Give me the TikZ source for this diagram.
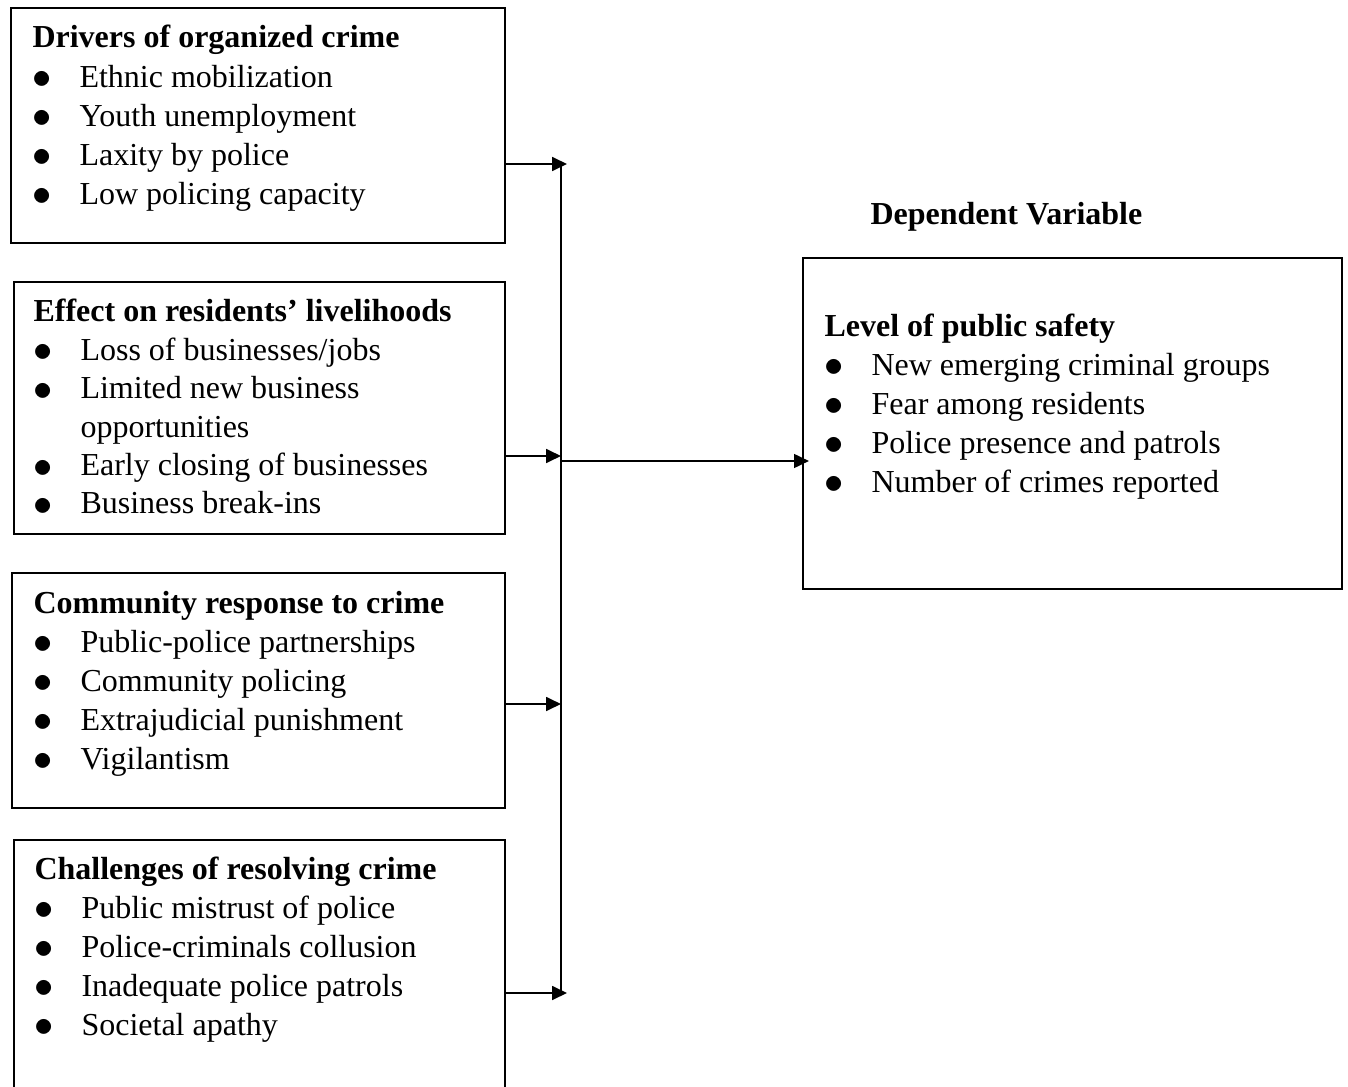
\documentclass[tikz,border=0pt]{standalone}
\usepackage{fontspec}
\setmainfont{Liberation Serif}
\usepackage{tikz}
\usetikzlibrary{arrows.meta}
\newdimen\px \px=0.375pt
\newcommand{\bulitem}[1]{\makebox[47\px][l]{\raisebox{-1.6\px}{\scalebox{1.2}{$\bullet$}}}#1}
\newcommand{\bulcont}[1]{\hspace*{47\px}#1}
\tikzset{
    panel/.style = {
        draw, line width = 0.6pt,
        inner sep = 0pt,
        anchor = north west
    },
    listtext/.style = {
        inner sep = 0pt, anchor = base west,
        font = \fontsize{12pt}{14.65pt}\selectfont
    },
    wire/.style = {line width = 0.75pt},
    line/.style = {wire, -{Triangle[length=5.6pt, width=5.2pt]}}
}
\begin{document}
\begin{tikzpicture}[x=0.375pt, y=-0.375pt]

    \useasboundingbox (0,0) rectangle (1348,1087);

    % Boxes
    \node[panel, minimum width=494\px, minimum height=235\px] (drivers) at (10,7) {};
    \node[panel, minimum width=491\px, minimum height=252\px] (livelihoods) at (13,281) {};
    \node[panel, minimum width=493\px, minimum height=235\px] (community) at (11,572) {};
    \node[panel, minimum width=491\px, minimum height=300\px] (challenges) at (13,839) {};
    \node[panel, minimum width=539\px, minimum height=331\px] (safety) at (802,257) {};

    % Texts
    \node[listtext] (driverslist) at (32,48) {\begin{tabular}[t]{@{}l@{}}
        \textbf{Drivers of organized crime}\\
        \bulitem{Ethnic mobilization}\\
        \bulitem{Youth unemployment}\\
        \bulitem{Laxity by police}\\
        \bulitem{Low policing capacity}
    \end{tabular}};
    \node[listtext, font=\fontsize{12pt}{14.4pt}\selectfont] (livelihoodslist) at (33,322) {\begin{tabular}[t]{@{}l@{}}
        \textbf{Effect on residents’ livelihoods}\\
        \bulitem{Loss of businesses/jobs}\\
        \bulitem{Limited new business}\\
        \bulcont{opportunities}\\
        \bulitem{Early closing of businesses}\\
        \bulitem{Business break-ins}
    \end{tabular}};
    \node[listtext] (communitylist) at (33,613) {\begin{tabular}[t]{@{}l@{}}
        \textbf{Community response to crime}\\
        \bulitem{Public-police partnerships}\\
        \bulitem{Community policing}\\
        \bulitem{Extrajudicial punishment}\\
        \bulitem{Vigilantism}
    \end{tabular}};
    \node[listtext] (challengeslist) at (34,879) {\begin{tabular}[t]{@{}l@{}}
        \textbf{Challenges of resolving crime}\\
        \bulitem{Public mistrust of police}\\
        \bulitem{Police-criminals collusion}\\
        \bulitem{Inadequate police patrols}\\
        \bulitem{Societal apathy}
    \end{tabular}};
    \node[listtext] (safetylist) at (824,336) {\begin{tabular}[t]{@{}l@{}}
        \textbf{Level of public safety}\\
        \bulitem{New emerging criminal groups}\\
        \bulitem{Fear among residents}\\
        \bulitem{Police presence and patrols}\\
        \bulitem{Number of crimes reported}
    \end{tabular}};
    \node[listtext, font=\fontsize{12pt}{14.65pt}\selectfont\bfseries] (dependent) at (870,225) {Dependent Variable};

    % Connectors
    \coordinate (tap1) at (567,164);
    \coordinate (tap2) at (561,456);
    \coordinate (tap3) at (561,704);
    \coordinate (tap4) at (567,993);
    \coordinate (bustop) at (561,164);
    \coordinate (busbot) at (561,993);
    \coordinate (hub) at (561,461);

    \draw[line] (drivers.east |- tap1) -- (tap1);
    \draw[line] (livelihoods.east |- tap2) -- (tap2);
    \draw[line] (community.east |- tap3) -- (tap3);
    \draw[line] (challenges.east |- tap4) -- (tap4);
    \draw[wire] (bustop) -- (busbot);
    \draw[line, shorten >=-2.6pt] (hub) -- (safety.west |- hub);

\end{tikzpicture}
\end{document}
